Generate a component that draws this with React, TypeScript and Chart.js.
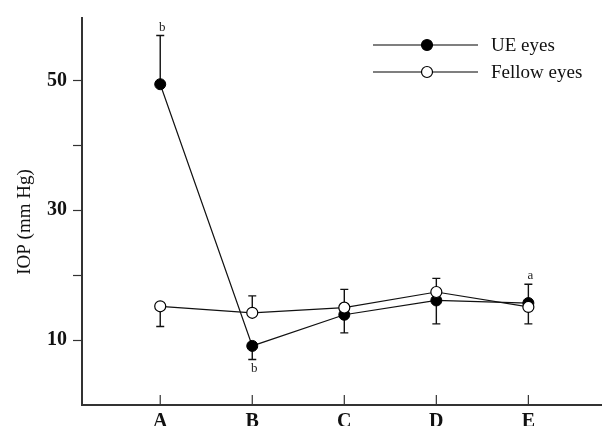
import React, { useEffect, useRef } from "react";
import { Chart, registerables } from "chart.js";

Chart.register(...registerables);

const categories = ["A", "B", "C", "D", "E"];
const ueValues = [49.4, 9.1, 13.9, 16.1, 15.7];
const ueErr = [7.5, 2.1, 2.8, 3.6, 2.9];
const ueErrDir = [1, -1, -1, -1, 1];
const fellowValues = [15.2, 14.2, 15.0, 17.4, 15.1];
const fellowErr = [3.1, 2.6, 2.8, 2.1, 2.6];
const fellowErrDir = [-1, 1, 1, 1, -1];
const yTicks = [10, 20, 30, 40, 50];
const yTickLabels = ["10", "", "30", "", "50"];
const seriesNames = ["UE eyes", "Fellow eyes"];
const annoTexts = ["b", "b", "a"];
const annoCat = [0, 1, 4];
const annoVal = [58.1, 5.6, 19.9];
const yTitle = "IOP (mm Hg)";

const SERIF = "'Liberation Serif', 'Times New Roman', serif";

const drawPlugin = {
  id: "custom",
  beforeDatasetsDraw(chart: any) {
    const ctx = chart.ctx;
    const xs = chart.scales.x;
    const ys = chart.scales.y;
    const sets = [
      [ueValues, ueErr, ueErrDir],
      [fellowValues, fellowErr, fellowErrDir],
    ];
    ctx.save();
    ctx.strokeStyle = "#111";
    ctx.lineWidth = 1.4;
    for (const [vals, errs, dirs] of sets) {
      vals.forEach((v: number, i: number) => {
        const x = xs.getPixelForValue(i);
        const y0 = ys.getPixelForValue(v);
        const y1 = ys.getPixelForValue(v + errs[i] * dirs[i]);
        ctx.beginPath();
        ctx.moveTo(x, y0);
        ctx.lineTo(x, y1);
        ctx.moveTo(x - 4, y1);
        ctx.lineTo(x + 4, y1);
        ctx.stroke();
      });
    }
    ctx.restore();
  },
  afterDraw(chart: any) {
    const ctx = chart.ctx;
    const xs = chart.scales.x;
    const ys = chart.scales.y;
    const area = chart.chartArea;
    ctx.save();
    // x tick marks (inside)
    ctx.strokeStyle = "#333";
    ctx.lineWidth = 1.2;
    categories.forEach((_, i) => {
      const x = xs.getPixelForValue(i);
      ctx.beginPath();
      ctx.moveTo(x, area.bottom - 10);
      ctx.lineTo(x, area.bottom);
      ctx.stroke();
    });
    // annotations
    ctx.fillStyle = "#222";
    ctx.font = "13px " + SERIF;
    ctx.textAlign = "center";
    ctx.textBaseline = "middle";
    annoTexts.forEach((t, k) => {
      const x = xs.getPixelForValue(annoCat[k]) + 2;
      const y = ys.getPixelForValue(annoVal[k]);
      ctx.fillText(t, x, y);
    });
    // y title
    ctx.save();
    ctx.translate(25, 222);
    ctx.rotate(-Math.PI / 2);
    ctx.font = "19px " + SERIF;
    ctx.fillStyle = "#111";
    ctx.textAlign = "center";
    ctx.textBaseline = "middle";
    ctx.fillText(yTitle, 0, 0);
    ctx.restore();
    // legend
    const rows = [45, 72];
    seriesNames.forEach((name, k) => {
      const y = rows[k];
      ctx.strokeStyle = "#555";
      ctx.lineWidth = 1.5;
      ctx.beginPath();
      ctx.moveTo(373, y);
      ctx.lineTo(478, y);
      ctx.stroke();
      ctx.beginPath();
      ctx.arc(427, y, 5.5, 0, Math.PI * 2);
      ctx.fillStyle = k === 0 ? "#000" : "#fff";
      ctx.fill();
      ctx.strokeStyle = "#000";
      ctx.lineWidth = 1.2;
      ctx.stroke();
      ctx.fillStyle = "#111";
      ctx.font = "19px " + SERIF;
      ctx.textAlign = "left";
      ctx.textBaseline = "middle";
      ctx.fillText(name, 491, y + 1);
    });
    ctx.restore();
  },
};

export default function App() {
  const ref = useRef<HTMLCanvasElement>(null);
  useEffect(() => {
    document.body.style.margin = "0";
    const chart = new Chart(ref.current as HTMLCanvasElement, {
      type: "line",
      data: {
        datasets: [
          {
            label: seriesNames[0],
            data: ueValues.map((v, i) => ({ x: i, y: v })),
            borderColor: "#111",
            borderWidth: 1.2,
            pointRadius: 5.5,
            pointBackgroundColor: "#000",
            pointBorderColor: "#000",
            pointBorderWidth: 1,
            order: 1,
          },
          {
            label: seriesNames[1],
            data: fellowValues.map((v, i) => ({ x: i, y: v })),
            borderColor: "#111",
            borderWidth: 1.2,
            pointRadius: 5.5,
            pointBackgroundColor: "#fff",
            pointBorderColor: "#000",
            pointBorderWidth: 1.2,
            order: 0,
          },
        ],
      },
      options: {
        animation: false,
        responsive: false,
        devicePixelRatio: 1,
        layout: { autoPadding: false, padding: { top: 14, right: 0, left: 0, bottom: 0 } },
        plugins: { legend: { display: false }, tooltip: { enabled: false } },
        scales: {
          x: {
            type: "linear",
            min: -0.85,
            max: 4.8,
            afterBuildTicks: (s: any) => {
              s.ticks = categories.map((_, i) => ({ value: i }));
            },
            afterFit: (s: any) => {
              s.height = 21;
            },
            grid: { display: true, drawOnChartArea: false, drawTicks: false },
            border: { display: true, color: "#333", width: 2 },
            ticks: {
              callback: (v: any) => categories[v] ?? "",
              font: { family: SERIF, size: 20, weight: "bold" },
              color: "#111",
              padding: 5,
              autoSkip: false,
              maxRotation: 0,
            },
          },
          y: {
            type: "linear",
            min: 0,
            max: 59.6,
            afterBuildTicks: (s: any) => {
              s.ticks = yTicks.map((v) => ({ value: v }));
            },
            afterFit: (s: any) => {
              s.width = 82;
            },
            grid: {
              drawOnChartArea: false,
              drawTicks: true,
              tickLength: 9,
              tickColor: "#333",
              tickWidth: 1.2,
            },
            border: { display: true, color: "#333", width: 2 },
            ticks: {
              callback: (v: any) => {
                const i = yTicks.indexOf(v);
                return i >= 0 ? yTickLabels[i] : "";
              },
              font: { family: SERIF, size: 20, weight: "bold" },
              color: "#111",
              padding: 6,
            },
          },
        },
      },
      plugins: [drawPlugin],
    } as any);
    return () => chart.destroy();
  }, []);
  return (
    <div style={{ width: 602, height: 426 }}>
      <canvas ref={ref} width={602} height={426} />
    </div>
  );
}
